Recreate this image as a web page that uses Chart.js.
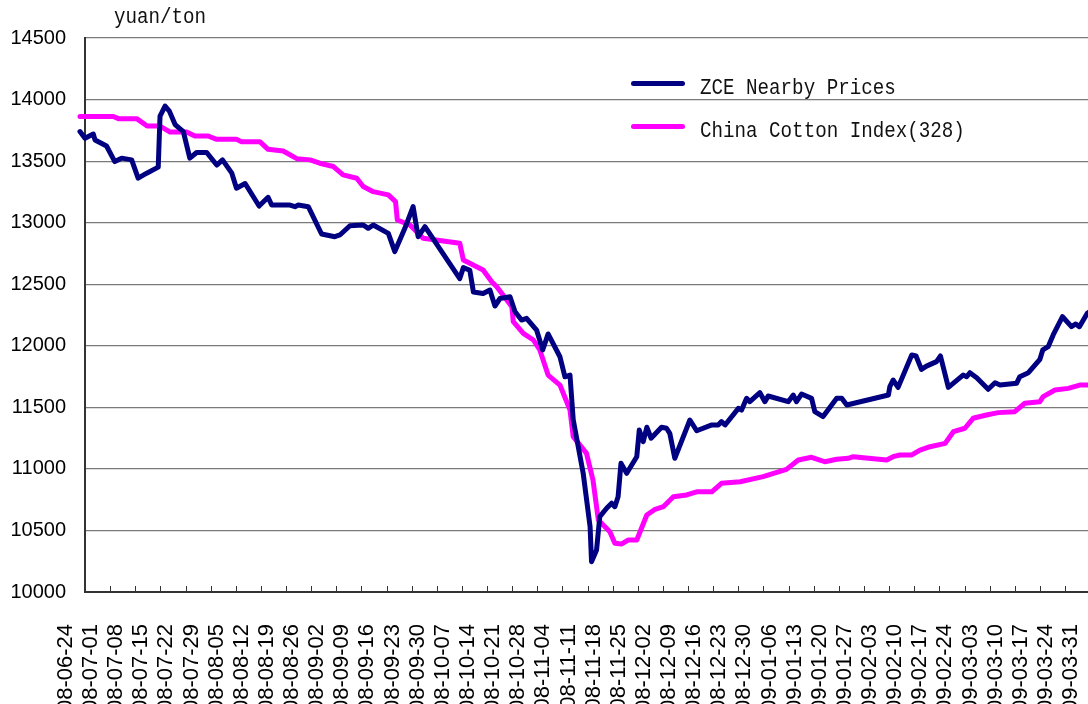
<!DOCTYPE html>
<html><head><meta charset="utf-8">
<script src="https://cdn.jsdelivr.net/npm/chart.js@4.4.1/dist/chart.umd.min.js"></script>
<style>
html,body{margin:0;padding:0;background:#fff;overflow:hidden;}
#wrap{position:relative;width:1088px;height:704px;overflow:hidden;background:#fff;}
#c{position:absolute;left:0;top:0;}
.mono{position:absolute;font-family:"Liberation Mono",monospace;font-size:19.2px;line-height:19px;color:#111;white-space:nowrap;transform:scaleY(1.17);transform-origin:0 14.6px;}
.swatch{position:absolute;height:5px;border-radius:3px;width:54px;}
</style></head><body>
<div id="wrap">
<canvas id="c" width="1088" height="800"></canvas>
<div class="mono" style="left:114px;top:9.4px">yuan/ton</div>
<div class="swatch" style="left:631px;top:81px;background:#000080"></div>
<div class="mono" style="left:700px;top:79.7px">ZCE Nearby Prices</div>
<div class="swatch" style="left:631px;top:124px;background:#ff00ff"></div>
<div class="mono" style="left:700px;top:122.7px">China Cotton Index(328)</div>
</div>
<script>
// weekly axis labels (tick k sits at day 7*k, day 0 = 2008-06-24)
const weekLabels = ['08-06-24','08-07-01','08-07-08','08-07-15','08-07-22','08-07-29','08-08-05','08-08-12','08-08-19','08-08-26','08-09-02','08-09-09','08-09-16','08-09-23','08-09-30','08-10-07','08-10-14','08-10-21','08-10-28','08-11-04','08-11-11','08-11-18','08-11-25','08-12-02','08-12-09','08-12-16','08-12-23','08-12-30','09-01-06','09-01-13','09-01-20','09-01-27','09-02-03','09-02-10','09-02-17','09-02-24','09-03-03','09-03-10','09-03-17','09-03-24','09-03-31'];

// ZCE Nearby Prices: day offset, price (yuan/ton)
const zceDay = [5.6,7.0,9.3,9.8,13.0,15.3,17.2,20.0,21.8,24.2,27.4,27.9,29.3,30.5,32.1,34.4,36.2,38.1,40.9,43.7,45.3,47.9,49.2,51.6,55.5,58.0,59.0,64.1,65.5,66.4,69.2,72.9,76.6,78.0,80.8,84.5,85.9,87.3,91.5,93.3,96.1,98.4,99.8,101.7,111.4,112.4,114.2,115.2,117.9,119.8,121.2,122.6,125.4,126.8,128.6,130.0,132.8,134.5,136.0,139.3,140.7,142.1,143.0,145.8,147.7,148.1,149.5,150.4,152.3,153.7,154.6,155.5,156.3,157.9,160.7,161.4,162.5,163.5,164.7,167.6,169.0,169.9,171.3,175.5,177.4,181.6,183.4,184.3,185.3,189.0,189.9,191.3,192.2,195.0,196.4,197.3,202.9,204.3,205.2,206.6,209.4,210.3,212.6,216.4,217.8,219.2,230.8,231.2,232.1,233.5,237.3,238.5,240.0,241.4,244.2,245.3,247.5,251.6,252.6,253.5,255.4,258.6,260.5,261.9,266.5,267.4,269.8,273.0,273.8,275.3,276.7,279.3,281.8,283.0,284.0,286.2,288.0];
const zcePrice = [13740,13685,13720,13672,13623,13496,13524,13510,13362,13402,13451,13866,13947,13906,13797,13739,13524,13570,13570,13468,13510,13402,13280,13318,13135,13206,13143,13143,13130,13143,13130,12908,12886,12900,12975,12981,12954,12981,12913,12765,12954,13130,12886,12967,12546,12635,12613,12437,12424,12453,12323,12384,12398,12277,12209,12223,12128,11966,12096,11911,11748,11762,11400,10960,10530,10246,10341,10612,10680,10721,10693,10774,11045,10964,11099,11316,11221,11338,11249,11338,11330,11289,11086,11397,11310,11357,11357,11384,11357,11492,11478,11573,11546,11619,11546,11592,11546,11600,11546,11608,11573,11465,11425,11573,11573,11519,11600,11668,11722,11662,11925,11917,11808,11835,11871,11917,11662,11762,11749,11781,11741,11647,11700,11681,11695,11749,11781,11890,11966,11993,12088,12236,12155,12177,12155,12263,12300];

// China Cotton Index(328): day offset, price
const cciDay = [5.6,14.9,16.3,21.4,24.3,27.9,30.7,35.3,37.6,41.3,43.7,49.2,50.6,55.7,58.0,62.2,66.0,69.7,72.4,76.2,78.9,82.7,84.5,87.3,91.5,93.5,94.0,97.5,101.2,111.4,112.4,117.9,120.3,121.7,124.5,125.9,126.3,129.1,131.9,133.7,136.0,139.3,142.1,143.0,146.7,148.5,150.0,153.2,154.6,156.5,158.3,160.7,163.5,165.8,168.1,170.9,174.6,177.4,181.6,184.3,189.5,195.9,202.4,205.7,209.4,211.7,213.1,216.4,219.6,221.0,230.3,232.1,234.0,237.3,239.6,242.4,246.6,248.9,252.1,254.4,258.1,261.4,266.0,268.8,273.0,273.9,277.2,280.9,284.1,288.0];
const cciPrice = [13862,13862,13845,13845,13785,13785,13736,13736,13704,13704,13677,13677,13658,13658,13596,13582,13520,13510,13483,13456,13388,13361,13293,13252,13226,13171,13022,12981,12873,12832,12697,12616,12520,12480,12372,12318,12196,12101,12047,11966,11762,11681,11478,11262,11126,10910,10585,10490,10396,10390,10422,10422,10625,10672,10693,10774,10788,10814,10814,10883,10896,10937,10996,11072,11094,11072,11058,11078,11086,11099,11072,11099,11113,11113,11153,11180,11207,11302,11330,11411,11438,11457,11465,11533,11546,11587,11641,11654,11681,11681];

const X_MIN = 7, X_MAX = 286.4;
const Y_MIN = 10000, Y_MAX = 14500, Y_STEP = 500;

const toPts = (xs, ys) => xs.map((x, i) => ({x: x, y: ys[i]}));

const tickMarks = {
  id: 'tickMarks',
  afterDraw(chart) {
    const {ctx, chartArea, scales: {x}} = chart;
    ctx.save();
    ctx.strokeStyle = '#333';
    ctx.lineWidth = 1;
    x.ticks.forEach(t => {
      if (t.value < x.min || t.value > x.max) return;
      const px = Math.round(x.getPixelForValue(t.value)) + 0.5;
      ctx.beginPath();
      ctx.moveTo(px, chartArea.bottom);
      ctx.lineTo(px, chartArea.bottom - 6);
      ctx.stroke();
    });
    ctx.restore();
  }
};

const xFont = {family: '"Liberation Sans", Arial, sans-serif', size: 22};
const yFont = {family: '"Liberation Sans", Arial, sans-serif', size: 20};

new Chart(document.getElementById('c'), {
  type: 'line',
  data: {
    datasets: [
      {label: 'ZCE Nearby Prices', data: toPts(zceDay, zcePrice), borderColor: '#000080', backgroundColor: '#000080',
       borderWidth: 5, pointRadius: 0, tension: 0, borderJoinStyle: 'round', borderCapStyle: 'round',
       clip: {left: 8, top: 5, right: 0, bottom: 5}},
      {label: 'China Cotton Index(328)', data: toPts(cciDay, cciPrice), borderColor: '#ff00ff', backgroundColor: '#ff00ff',
       borderWidth: 5, pointRadius: 0, tension: 0, borderJoinStyle: 'round', borderCapStyle: 'round',
       clip: {left: 8, top: 5, right: 0, bottom: 5}}
    ]
  },
  options: {
    responsive: false,
    animation: false,
    devicePixelRatio: 1,
    layout: {padding: {top: 38, left: 0, right: 0, bottom: 0}},
    plugins: {legend: {display: false}, tooltip: {enabled: false}},
    scales: {
      x: {
        type: 'linear', min: X_MIN, max: X_MAX,
        afterBuildTicks: s => { s.ticks = weekLabels.map((_, i) => ({value: i * 7})); },
        afterFit: s => { s.height = 800 - 592; s.paddingLeft = 0; s.paddingRight = 0; },
        grid: {display: true, drawOnChartArea: false, drawTicks: false, color: 'rgba(0,0,0,0)'},
        border: {display: true, color: '#333', width: 2},
        ticks: {autoSkip: false, minRotation: 90, maxRotation: 90, padding: 32, labelOffset: 6,
                color: '#000', font: xFont,
                callback: (v, i) => weekLabels[i]}
      },
      y: {
        min: Y_MIN, max: Y_MAX,
        afterFit: s => { s.width = 85; s.paddingTop = 0; s.paddingBottom = 0; },
        grid: {color: '#7a7a7a', lineWidth: 1.2, drawTicks: false},
        border: {display: true, color: '#333', width: 2},
        ticks: {stepSize: Y_STEP, padding: 19, color: '#000', font: yFont,
                callback: v => String(v)}
      }
    }
  },
  plugins: [tickMarks]
});
</script>
</body></html>
